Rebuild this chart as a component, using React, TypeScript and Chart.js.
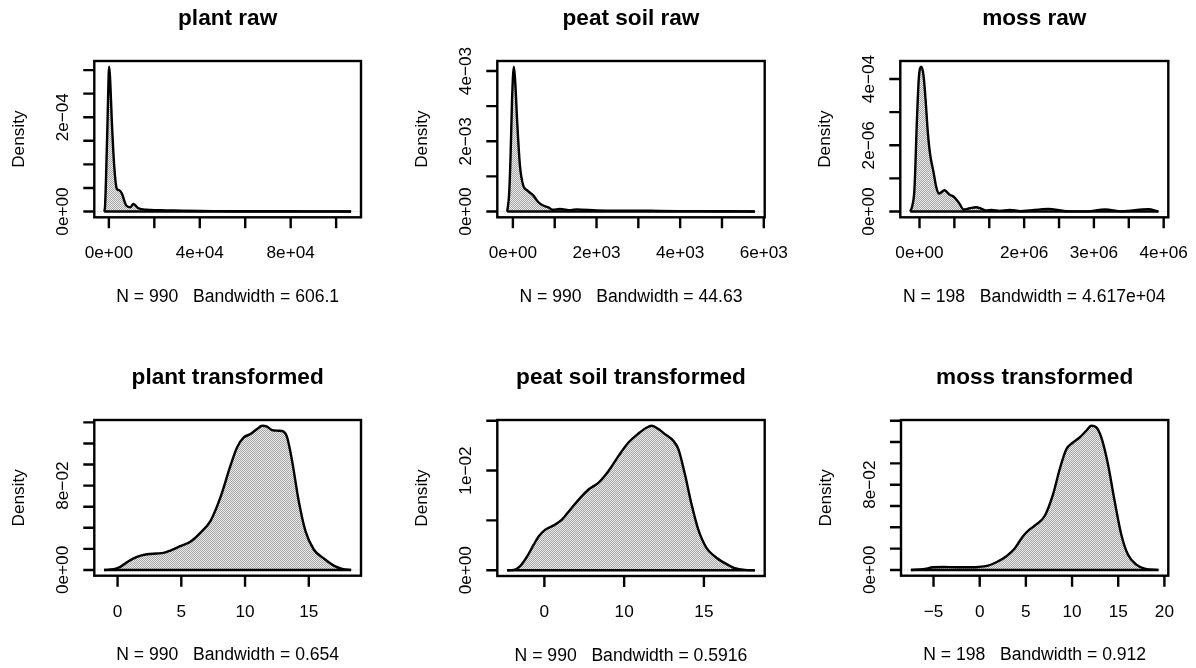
import React, { useEffect, useRef } from "react";
import { Chart, registerables } from "chart.js";
Chart.register(...registerables);

// ---------------- data ----------------
const titles = ["plant raw", "peat soil raw", "moss raw", "plant transformed", "peat soil transformed", "moss transformed"];
const subtitles = [
  "N = 990   Bandwidth = 606.1",
  "N = 990   Bandwidth = 44.63",
  "N = 198   Bandwidth = 4.617e+04",
  "N = 990   Bandwidth = 0.654",
  "N = 990   Bandwidth = 0.5916",
  "N = 198   Bandwidth = 0.912",
];
const yAxisTitle = "Density";

const plantRawX = [-2070, -1700, -1200, -600, -100, 130, 500, 900, 1320, 2330, 3520, 4660, 5720, 7610, 9370, 10800, 13000, 16700, 19700, 25000, 32000, 40000, 50000, 60000, 70000, 80000, 90000, 100000, 106600];
const plantRawY = [0, 0.1e-4, 0.8e-4, 1.9e-4, 2.9e-4, 3.07e-4, 2.85e-4, 2.4e-4, 1.9e-4, 0.98e-4, 0.48e-4, 0.45e-4, 0.38e-4, 0.13e-4, 0.09e-4, 0.16e-4, 0.07e-4, 0.036e-4, 0.03e-4, 0.025e-4, 0.015e-4, 0.01e-4, 0.008e-4, 0.005e-4, 0.004e-4, 0.004e-4, 0.003e-4, 0.002e-4, 0];

const peatRawX = [-136, -90, -55, -20, 24, 60, 103, 168, 247, 342, 486, 605, 725, 845, 964, 1124, 1390, 1524, 2000, 2500, 3000, 3500, 4000, 4500, 5000, 5500, 5785];
const peatRawY = [0, 0.5e-3, 1.6e-3, 3.2e-3, 4.12e-3, 3.6e-3, 2.55e-3, 1.31e-3, 0.74e-3, 0.6e-3, 0.46e-3, 0.27e-3, 0.17e-3, 0.12e-3, 0.05e-3, 0.07e-3, 0.04e-3, 0.06e-3, 0.03e-3, 0.02e-3, 0.025e-3, 0.015e-3, 0.01e-3, 0.01e-3, 0.008e-3, 0.005e-3, 0];

const mossRawX = [3.67e5, 4.0e5, 4.28e5, 4.62e5, 4.9e5, 5.24e5, 5.57e5, 5.86e5, 6.19e5, 6.54e5, 7.01e5, 7.4e5, 7.77e5, 8.59e5, 9.31e5, 1.0e6, 1.075e6, 1.13e6, 1.22e6, 1.31e6, 1.39e6, 1.46e6, 1.53e6, 1.65e6, 1.793e6, 1.95e6, 2.343e6, 2.6e6, 2.9e6, 3.158e6, 3.4e6, 3.78e6, 3.924e6];
const mossRawY = [0, 0.2e-6, 0.69e-6, 2.7e-6, 4.02e-6, 4.37e-6, 4.12e-6, 3.41e-6, 2.4e-6, 1.7e-6, 1.19e-6, 0.74e-6, 0.54e-6, 0.64e-6, 0.51e-6, 0.43e-6, 0.23e-6, 0.06e-6, 0.1e-6, 0.13e-6, 0.08e-6, 0.03e-6, 0.05e-6, 0.02e-6, 0.05e-6, 0.01e-6, 0.08e-6, 0.01e-6, 0.005e-6, 0.06e-6, 0.005e-6, 0.07e-6, 0];

const plantTrX = [-1.05, -0.31, 0.21, 0.86, 1.52, 2.3, 3.09, 3.61, 4.14, 4.92, 5.71, 6.49, 7.28, 8.06, 8.85, 9.37, 9.9, 10.42, 10.94, 11.34, 11.73, 12.12, 12.64, 13.04, 13.3, 13.69, 14.21, 14.74, 15.39, 16.18, 16.96, 17.62, 18.32];
const plantTrY = [0, 0.0006, 0.0029, 0.0083, 0.0124, 0.0149, 0.0156, 0.0162, 0.0184, 0.0225, 0.0267, 0.0352, 0.0463, 0.0686, 0.0987, 0.1162, 0.1257, 0.1289, 0.1337, 0.1368, 0.1359, 0.1327, 0.1321, 0.1311, 0.1257, 0.1035, 0.0654, 0.0368, 0.0194, 0.0108, 0.0041, 0.001, 0];

const peatTrX = [2.67, 3.08, 3.5, 3.92, 4.33, 4.65, 5.06, 5.58, 6.1, 6.63, 7.25, 7.77, 8.4, 9.02, 9.65, 10.27, 10.9, 11.42, 11.73, 12.15, 12.56, 13.08, 13.4, 13.81, 14.23, 14.65, 15.17, 15.69, 16.31, 16.94, 17.56, 18.19];
const peatTrY = [0, 0.00003, 0.00044, 0.00138, 0.00256, 0.0034, 0.00407, 0.0045, 0.00508, 0.00609, 0.00726, 0.0081, 0.00878, 0.00995, 0.01147, 0.01281, 0.01372, 0.01432, 0.01449, 0.01416, 0.01365, 0.01298, 0.01214, 0.00962, 0.00659, 0.00407, 0.00222, 0.00138, 0.00071, 0.0002, 0.00003, 0];

const mossTrX = [-7.45, -6.13, -5.05, -3.97, -2.53, -1.44, -0.18, 0.9, 1.8, 2.89, 3.79, 4.69, 5.41, 6.13, 7.03, 7.94, 8.66, 9.38, 10.1, 10.82, 11.54, 12.09, 12.63, 13.17, 13.89, 14.61, 15.33, 16.05, 16.96, 17.86, 19.35];
const mossTrY = [0, 0.0006, 0.0025, 0.0028, 0.0025, 0.0025, 0.0028, 0.0041, 0.0072, 0.0129, 0.0201, 0.0317, 0.038, 0.0427, 0.0506, 0.071, 0.0945, 0.1133, 0.1196, 0.1243, 0.1306, 0.1353, 0.1338, 0.1243, 0.0992, 0.0647, 0.0333, 0.0144, 0.005, 0.0013, 0];

const M = "\u2212";
const plantRawXTicks = [0, 20000, 40000, 60000, 80000, 100000];
const plantRawXLabels = ["0e+00", "", "4e+04", "", "8e+04", ""];
const plantRawYTicks = [0, 5e-5, 1e-4, 1.5e-4, 2e-4, 2.5e-4, 3e-4];
const plantRawYLabels = ["0e+00", "", "", "", "2e" + M + "04", "", ""];

const peatRawXTicks = [0, 1000, 2000, 3000, 4000, 5000, 6000];
const peatRawXLabels = ["0e+00", "", "2e+03", "", "4e+03", "", "6e+03"];
const peatRawYTicks = [0, 1e-3, 2e-3, 3e-3, 4e-3];
const peatRawYLabels = ["0e+00", "", "2e" + M + "03", "", "4e" + M + "03"];

const mossRawXTicks = [5e5, 1e6, 1.5e6, 2e6, 2.5e6, 3e6, 3.5e6, 4e6];
const mossRawXLabels = ["0e+00", "", "", "2e+06", "", "3e+06", "", "4e+06"];
const mossRawYTicks = [0, 1e-6, 2e-6, 3e-6, 4e-6];
const mossRawYLabels = ["0e+00", "", "2e" + M + "06", "", "4e" + M + "04"];

const plantTrXTicks = [0, 5, 10, 15];
const plantTrXLabels = ["0", "5", "10", "15"];
const plantTrYTicks = [0, 0.02, 0.04, 0.06, 0.08, 0.1, 0.12, 0.14];
const plantTrYLabels = ["0e+00", "", "", "", "8e" + M + "02", "", "", ""];

const peatTrXTicks = [5, 10, 15];
const peatTrXLabels = ["0", "10", "15"];
const peatTrYTicks = [0, 0.005, 0.01, 0.015];
const peatTrYLabels = ["0e+00", "", "1e" + M + "02", ""];

const mossTrXTicks = [-5, 0, 5, 10, 15, 20];
const mossTrXLabels = [M + "5", "0", "5", "10", "15", "20"];
const mossTrYTicks = [0, 0.02, 0.04, 0.06, 0.08, 0.1, 0.12, 0.14];
const mossTrYLabels = ["0e+00", "", "", "", "8e" + M + "02", "", "", ""];

// ---------------- layout ----------------
const FONT = '"Liberation Sans", Arial, Helvetica, sans-serif';
const CELLS: [number, number, number, number][] = [
  [0, 0, 399, 334], [399, 0, 398, 334], [797, 0, 399, 334],
  [0, 334, 399, 334], [399, 334, 398, 334], [797, 334, 399, 334],
];
// plot box (left, top, right, bottom) in page pixels
const BOXES: [number, number, number, number][] = [
  [94.3, 61, 361, 217.3], [497.3, 61, 764.7, 217.3], [900.3, 61, 1168.3, 217.3],
  [94.3, 420, 361, 575.7], [497.3, 420, 764.7, 576], [901, 420, 1168.3, 575.7],
];
const LW = 2.4;

type Panel = {
  title: string; sub: string; xs: number[]; ys: number[];
  xTicks: number[]; xLabels: string[]; yTicks: number[]; yLabels: string[];
};

const PANELS: Panel[] = [
  { title: titles[0], sub: subtitles[0], xs: plantRawX, ys: plantRawY, xTicks: plantRawXTicks, xLabels: plantRawXLabels, yTicks: plantRawYTicks, yLabels: plantRawYLabels },
  { title: titles[1], sub: subtitles[1], xs: peatRawX, ys: peatRawY, xTicks: peatRawXTicks, xLabels: peatRawXLabels, yTicks: peatRawYTicks, yLabels: peatRawYLabels },
  { title: titles[2], sub: subtitles[2], xs: mossRawX, ys: mossRawY, xTicks: mossRawXTicks, xLabels: mossRawXLabels, yTicks: mossRawYTicks, yLabels: mossRawYLabels },
  { title: titles[3], sub: subtitles[3], xs: plantTrX, ys: plantTrY, xTicks: plantTrXTicks, xLabels: plantTrXLabels, yTicks: plantTrYTicks, yLabels: plantTrYLabels },
  { title: titles[4], sub: subtitles[4], xs: peatTrX, ys: peatTrY, xTicks: peatTrXTicks, xLabels: peatTrXLabels, yTicks: peatTrYTicks, yLabels: peatTrYLabels },
  { title: titles[5], sub: subtitles[5], xs: mossTrX, ys: mossTrY, xTicks: mossTrXTicks, xLabels: mossTrXLabels, yTicks: mossTrYTicks, yLabels: mossTrYLabels },
];

function makePattern(ctx: CanvasRenderingContext2D) {
  const c = document.createElement("canvas");
  c.width = 2; c.height = 2;
  const g = c.getContext("2d")!;
  g.fillStyle = "#ececec"; g.fillRect(0, 0, 2, 2);
  g.fillStyle = "#a4a4a4"; g.fillRect(0, 0, 1, 1); g.fillRect(1, 1, 1, 1);
  return ctx.createPattern(c, "repeat") || "#c6c6c6";
}

function makeAxesPlugin(p: Panel) {
  return {
    id: "rAxes",
    beforeDatasetsDraw(chart: any) {
      const { ctx, chartArea: a, scales } = chart;
      const y0 = scales.y.getPixelForValue(0);
      ctx.save();
      ctx.strokeStyle = "#c8c8c8"; ctx.lineWidth = 1; ctx.setLineDash([1, 2]);
      ctx.beginPath(); ctx.moveTo(a.left, y0); ctx.lineTo(a.right, y0); ctx.stroke();
      ctx.restore();
    },
    afterDraw(chart: any) {
      const { ctx, chartArea: a, scales } = chart;
      ctx.save();
      ctx.strokeStyle = "#000"; ctx.fillStyle = "#000"; ctx.lineWidth = LW; ctx.lineCap = "butt";
      ctx.strokeRect(a.left, a.top, a.right - a.left, a.bottom - a.top);
      const TL = 11;
      ctx.beginPath();
      p.xTicks.forEach((v) => { const x = scales.x.getPixelForValue(v); ctx.moveTo(x, a.bottom); ctx.lineTo(x, a.bottom + TL); });
      p.yTicks.forEach((v) => { const y = scales.y.getPixelForValue(v); ctx.moveTo(a.left, y); ctx.lineTo(a.left - TL, y); });
      ctx.stroke();
      ctx.font = `17.2px ${FONT}`; ctx.textAlign = "center"; ctx.textBaseline = "alphabetic";
      p.xTicks.forEach((v, i) => { if (p.xLabels[i]) ctx.fillText(p.xLabels[i], scales.x.getPixelForValue(v), a.bottom + 41); });
      p.yTicks.forEach((v, i) => {
        if (!p.yLabels[i]) return;
        ctx.save(); ctx.translate(a.left - 26.5, scales.y.getPixelForValue(v)); ctx.rotate(-Math.PI / 2);
        ctx.fillText(p.yLabels[i], 0, 0); ctx.restore();
      });
      ctx.save(); ctx.translate(a.left - 70.3, (a.top + a.bottom) / 2); ctx.rotate(-Math.PI / 2);
      ctx.fillText(yAxisTitle, 0, 0); ctx.restore();
      ctx.font = `17.6px ${FONT}`;
      ctx.fillText(p.sub, (a.left + a.right) / 2, a.bottom + 84.5);
      ctx.font = `bold 22.6px ${FONT}`;
      ctx.fillText(p.title, (a.left + a.right) / 2, a.top - 36);
      ctx.restore();
    },
  };
}

function PanelChart({ idx }: { idx: number }) {
  const ref = useRef<HTMLCanvasElement>(null);
  const p = PANELS[idx];
  const [cx, cy, cw, ch] = CELLS[idx];
  const [bl, bt, br, bb] = BOXES[idx];
  useEffect(() => {
    const canvas = ref.current!;
    const ctx = canvas.getContext("2d")!;
    const xMin = Math.min(...p.xs), xMax = Math.max(...p.xs);
    const yMax = Math.max(...p.ys);
    const xr = xMax - xMin;
    const pts = p.xs.map((x, i) => ({ x, y: p.ys[i] }));
    const chart = new Chart(canvas, {
      type: "line",
      data: {
        datasets: [
          {
            data: pts, borderColor: "#000", borderWidth: LW, pointRadius: 0, order: 2,
            cubicInterpolationMode: "monotone", fill: "origin", backgroundColor: makePattern(ctx) as any,
          },
          {
            data: [{ x: xMin, y: 0 }, { x: xMax, y: 0 }], borderColor: "#000", borderWidth: LW,
            pointRadius: 0, fill: false, order: 1,
          },
        ],
      },
      options: {
        animation: false, responsive: false, devicePixelRatio: 1,
        layout: { padding: { left: bl - cx, top: bt - cy, right: cx + cw - br, bottom: cy + ch - bb } },
        plugins: { legend: { display: false }, tooltip: { enabled: false } },
        events: [],
        scales: {
          x: { type: "linear", display: false, min: xMin - 0.04 * xr, max: xMax + 0.04 * xr },
          y: { type: "linear", display: false, min: -0.04 * yMax, max: yMax * 1.04 },
        },
      },
      plugins: [makeAxesPlugin(p)],
    });
    return () => chart.destroy();
  }, []);
  return (
    <canvas ref={ref} width={cw} height={ch}
      style={{ position: "absolute", left: cx, top: cy, width: cw, height: ch, display: "block" }} />
  );
}

export default function App() {
  return (
    <div style={{ position: "absolute", left: 0, top: 0, width: 1196, height: 668, background: "#fff" }}>
      {PANELS.map((_, i) => <PanelChart key={i} idx={i} />)}
    </div>
  );
}
